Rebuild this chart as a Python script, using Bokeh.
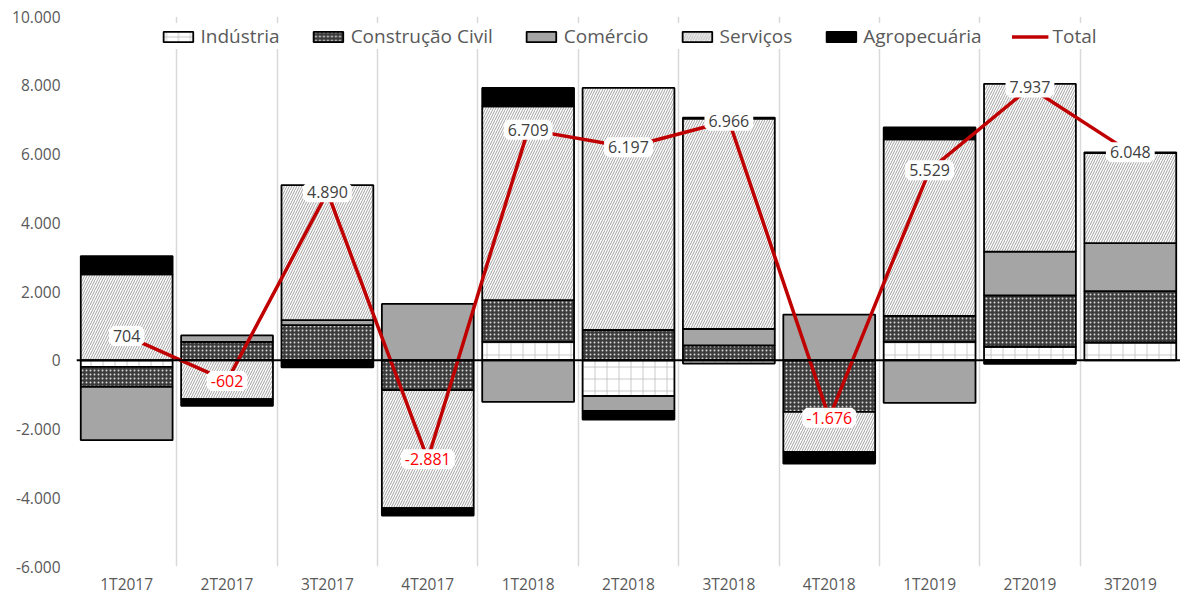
import numpy as np
from bokeh.plotting import figure
from bokeh.models import ColumnDataSource, Range1d, FixedTicker, LabelSet, Span
from bokeh.core.properties import value
from bokeh.embed import file_html
from bokeh.resources import INLINE

categories = ["1T2017", "2T2017", "3T2017", "4T2017", "1T2018", "2T2018",
              "3T2018", "4T2018", "1T2019", "2T2019", "3T2019"]
industria = [-195, 0, 0, 0, 533, -1040, -94, 0, 533, 393, 516]
construcao = [-580, 535, 1021, -870, 1217, 880, 432, -1504, 757, 1497, 1495]
comercio = [-1551, 186, 149, 1638, -1212, -430, 477, 1330, -1242, 1271, 1394]
servicos = [2497, -1130, 3927, -3430, 5638, 7041, 6121, -1161, 5134, 4881, 2618]
agropecuaria = [533, -193, -207, -219, 533, -254, 30, -341, 347, -105, 25]
total = [704, -602, 4890, -2881, 6709, 6197, 6966, -1676, 5529, 7937, 6048]

series_names = ["Indústria", "Construção Civil", "Comércio", "Serviços", "Agropecuária"]
total_name = "Total"
y_ticks = [-6000, -4000, -2000, 0, 2000, 4000, 6000, 8000, 10000]
y_tick_labels = ["-6.000", "-4.000", "-2.000", "0", "2.000", "4.000", "6.000", "8.000", "10.000"]

FONT = "Open Sans"
GRAY_TEXT = "#595959"

styles = [
    dict(fill_color="white", hatch_pattern="+", hatch_color="#b4b4b4", hatch_scale=12, hatch_weight=1.0, hatch_alpha=0.7),
    dict(fill_color="#3c3c3c", hatch_pattern="dot", hatch_color="#d8d8d8", hatch_scale=4, hatch_weight=1.2),
    dict(fill_color="#a5a5a5"),
    dict(fill_color="white", hatch_pattern="/", hatch_color="#a0a0a0", hatch_scale=5, hatch_weight=1.0),
    dict(fill_color="black"),
]

n = len(categories)
xs = np.arange(n)

p = figure(width=1180, height=597, x_range=Range1d(-0.5, n - 0.5),
           y_range=Range1d(-6000, 10000), output_backend="svg",
           toolbar_location=None, min_border_left=76, min_border_top=16,
           min_border_right=0, min_border_bottom=0)
p.outline_line_color = None
p.background_fill_color = "white"

# grids
p.ygrid.grid_line_color = None
p.xgrid.ticker = FixedTicker(ticks=[i - 0.5 for i in range(n + 1)])
p.xgrid.grid_line_color = "#d9d9d9"
p.xgrid.grid_line_width = 1.5

# stacked bars (positive and negative parts stacked separately)
pos_acc = np.zeros(n)
neg_acc = np.zeros(n)
for name, vals, st in zip(series_names, [industria, construcao, comercio, servicos, agropecuaria], styles):
    v = np.array(vals, dtype=float)
    bottom = np.where(v >= 0, pos_acc, neg_acc)
    top = bottom + v
    pos_acc = np.where(v >= 0, top, pos_acc)
    neg_acc = np.where(v < 0, top, neg_acc)
    mask = v != 0
    src = ColumnDataSource(dict(x=xs[mask], bottom=bottom[mask], top=top[mask]))
    p.vbar(x="x", bottom="bottom", top="top", width=0.915, source=src,
           line_color="black", line_width=1.8, legend_label=name, **st)

zero = Span(location=0, dimension="width", line_color="black", line_width=2)
p.add_layout(zero)

p.line(xs, total, line_color="#c00000", line_width=3.5, legend_label=total_name)

def fmt(v):
    s = f"{abs(v):,}".replace(",", ".")
    return ("-" if v < 0 else "") + s

lab_src = ColumnDataSource(dict(
    x=xs, y=total, text=[fmt(v) for v in total],
    color=["#ff0000" if v < 0 else "#404040" for v in total]))
labels = LabelSet(x="x", y="y", text="text", source=lab_src, text_align="center",
                  text_baseline="middle", text_font_size="16px", text_font=value(FONT),
                  text_color="color", background_fill_color="white",
                  background_fill_alpha=1.0, border_line_color="white",
                  border_line_width=8)
p.add_layout(labels)

# axes
p.yaxis.ticker = FixedTicker(ticks=y_ticks)
p.yaxis.major_label_overrides = {t: l for t, l in zip(y_ticks, y_tick_labels)}
p.yaxis.axis_line_color = None
p.yaxis.major_tick_line_color = None
p.yaxis.minor_tick_line_color = None
p.yaxis.major_tick_out = 0
p.yaxis.major_tick_in = 0
p.yaxis.minor_tick_out = 0
p.yaxis.major_label_text_font = FONT
p.yaxis.major_label_text_font_size = "15.5px"
p.yaxis.major_label_text_color = GRAY_TEXT
p.yaxis.major_label_standoff = 16

p.xaxis.ticker = FixedTicker(ticks=list(range(n)))
p.xaxis.major_label_overrides = {i: c for i, c in enumerate(categories)}
p.xaxis.axis_line_color = None
p.xaxis.major_tick_line_color = None
p.xaxis.minor_tick_line_color = None
p.xaxis.major_tick_out = 0
p.xaxis.major_tick_in = 0
p.xaxis.minor_tick_out = 0
p.xaxis.major_label_text_font = FONT
p.xaxis.major_label_text_font_size = "15.5px"
p.xaxis.major_label_text_color = GRAY_TEXT
p.xaxis.major_label_standoff = 6

# legend
lg = p.legend[0]
lg.orientation = "horizontal"
lg.location = "top_center"
lg.glyph_width = 37
lg.glyph_height = 13
lg.label_standoff = 4
lg.spacing = 30
lg.padding = 8
lg.margin = 7
lg.label_height = 21
lg.label_text_font = FONT
lg.label_text_font_size = "19px"
lg.label_text_color = GRAY_TEXT
lg.label_text_baseline = "middle"
lg.background_fill_color = "white"
lg.background_fill_alpha = 1.0
lg.border_line_color = None

open("out.html", "w").write(file_html(p, INLINE))
